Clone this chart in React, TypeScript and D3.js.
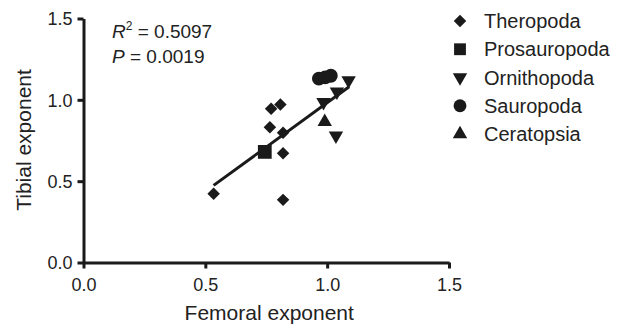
import React, { useEffect, useRef } from "react";
import * as d3 from "d3";

// tick labels
const xTicks = [0, 0.5, 1.0, 1.5];
const yTicks = [0, 0.5, 1.0, 1.5];

// groups, in legend order
const groups = ["Theropoda", "Prosauropoda", "Ornithopoda", "Sauropoda", "Ceratopsia"];

// femoral / tibial exponents per group
const theropodaX = [0.534, 0.77, 0.808, 0.765, 0.819, 0.819, 0.819];
const theropodaY = [0.422, 0.945, 0.971, 0.832, 0.797, 0.672, 0.385];
const prosauropodaX = [0.744];
const prosauropodaY = [0.68];
const ornithopodaX = [1.088, 1.04, 0.985, 1.036];
const ornithopodaY = [1.12, 1.05, 0.985, 0.78];
const sauropodaX = [0.966, 0.992, 1.015];
const sauropodaY = [1.13, 1.138, 1.148];
const ceratopsiaX = [0.99];
const ceratopsiaY = [0.865];

// regression line
const fitX = [0.534, 1.09];
const fitY = [0.474, 1.08];

const W = 627;
const H = 327;

const App: React.FC = () => {
  const svgRef = useRef<SVGSVGElement>(null);

  useEffect(() => {
    if (svgRef.current === null) return;
    const svg = d3.select(svgRef.current);
    svg.selectAll("*").remove();

    const x = d3.scaleLinear().domain([0, 1.5]).range([83.5, 449]);
    const y = d3.scaleLinear().domain([0, 1.5]).range([262.5, 18.5]);
    const font = "'Liberation Sans', Arial, Helvetica, sans-serif";
    const ink = "#1a1a1a";

    // axes
    const xAxis = d3
      .axisBottom(x)
      .tickValues(xTicks)
      .tickFormat(d3.format(".1f"))
      .tickSizeInner(6)
      .tickSizeOuter(0)
      .tickPadding(10);
    const yAxis = d3
      .axisLeft(y)
      .tickValues(yTicks)
      .tickFormat(d3.format(".1f"))
      .tickSizeInner(6)
      .tickSizeOuter(0)
      .tickPadding(5);

    const gx = svg.append("g").attr("transform", `translate(0, ${y(0)})`).call(xAxis);
    const gy = svg.append("g").attr("transform", `translate(${x(0)}, 0)`).call(yAxis);
    [gx, gy].forEach(g => {
      g.select(".domain").attr("stroke", ink).attr("stroke-width", 3);
      g.selectAll(".tick line").attr("stroke", ink).attr("stroke-width", 3);
      g.selectAll("text")
        .attr("fill", "#222")
        .style("font-family", font)
        .style("font-size", "18px");
    });
    gy.selectAll("text").attr("dy", "0.36em");

    // axis titles
    svg
      .append("text")
      .attr("x", (x(0) + x(1.5)) / 2 + 3)
      .attr("y", 320)
      .attr("text-anchor", "middle")
      .attr("fill", "#222")
      .style("font-family", font)
      .style("font-size", "21px")
      .text("Femoral exponent");
    svg
      .append("text")
      .attr("transform", `translate(31, 140) rotate(-90)`)
      .attr("text-anchor", "middle")
      .attr("fill", "#222")
      .style("font-family", font)
      .style("font-size", "21px")
      .text("Tibial exponent");

    // stats
    const r2 = svg
      .append("text")
      .attr("x", 112)
      .attr("y", 38)
      .attr("fill", "#222")
      .style("font-family", font)
      .style("font-size", "19px");
    r2.append("tspan").attr("font-style", "italic").text("R");
    r2.append("tspan").attr("font-size", "12px").attr("dy", -8).text("2");
    r2.append("tspan").attr("dy", 8).text(" = 0.5097");
    const p = svg
      .append("text")
      .attr("x", 112)
      .attr("y", 63)
      .attr("fill", "#222")
      .style("font-family", font)
      .style("font-size", "19px");
    p.append("tspan").attr("font-style", "italic").text("P");
    p.append("tspan").text(" = 0.0019");

    // regression line
    const line = d3
      .line<number>()
      .x(d => x(d))
      .y((d, i) => y(fitY[i]));
    svg
      .append("path")
      .attr("d", line(fitX))
      .attr("fill", "none")
      .attr("stroke", ink)
      .attr("stroke-width", 3);

    // symbols per group
    const shapes: { type: d3.SymbolType; size: number; rot: number }[] = [
      { type: d3.symbolSquare, size: 78, rot: 45 },
      { type: d3.symbolSquare, size: 190, rot: 0 },
      { type: d3.symbolTriangle, size: 90, rot: 180 },
      { type: d3.symbolCircle, size: 150, rot: 0 },
      { type: d3.symbolTriangle, size: 90, rot: 0 }
    ];
    const xs = [theropodaX, prosauropodaX, ornithopodaX, sauropodaX, ceratopsiaX];
    const ys = [theropodaY, prosauropodaY, ornithopodaY, sauropodaY, ceratopsiaY];

    xs.forEach((gxs, gi) => {
      const s = shapes[gi];
      const path = d3.symbol().type(s.type).size(s.size)();
      svg
        .append("g")
        .selectAll("path")
        .data(gxs)
        .enter()
        .append("path")
        .attr("d", path as string)
        .attr("fill", ink)
        .attr("transform", (d, i) => `translate(${x(d)}, ${y(ys[gi][i])}) rotate(${s.rot})`);
    });

    // legend
    const ly = d3.scalePoint<string>().domain(groups).range([21, 134]);
    const legend = svg.append("g");
    groups.forEach((name, gi) => {
      const s = shapes[gi];
      const legSize = gi === 1 ? 140 : gi === 3 ? 130 : s.size;
      legend
        .append("path")
        .attr("d", d3.symbol().type(s.type).size(legSize)() as string)
        .attr("fill", ink)
        .attr("transform", `translate(460, ${ly(name)}) rotate(${s.rot})`);
      legend
        .append("text")
        .attr("x", 484)
        .attr("y", ly(name) as number)
        .attr("dy", "0.36em")
        .attr("fill", "#222")
        .style("font-family", font)
        .style("font-size", "20px")
        .text(name);
    });
  }, []);

  return (
    <svg
      ref={svgRef}
      width={W}
      height={H}
      style={{ position: "absolute", left: 0, top: 0, background: "#fff" }}
    />
  );
};

export default App;
